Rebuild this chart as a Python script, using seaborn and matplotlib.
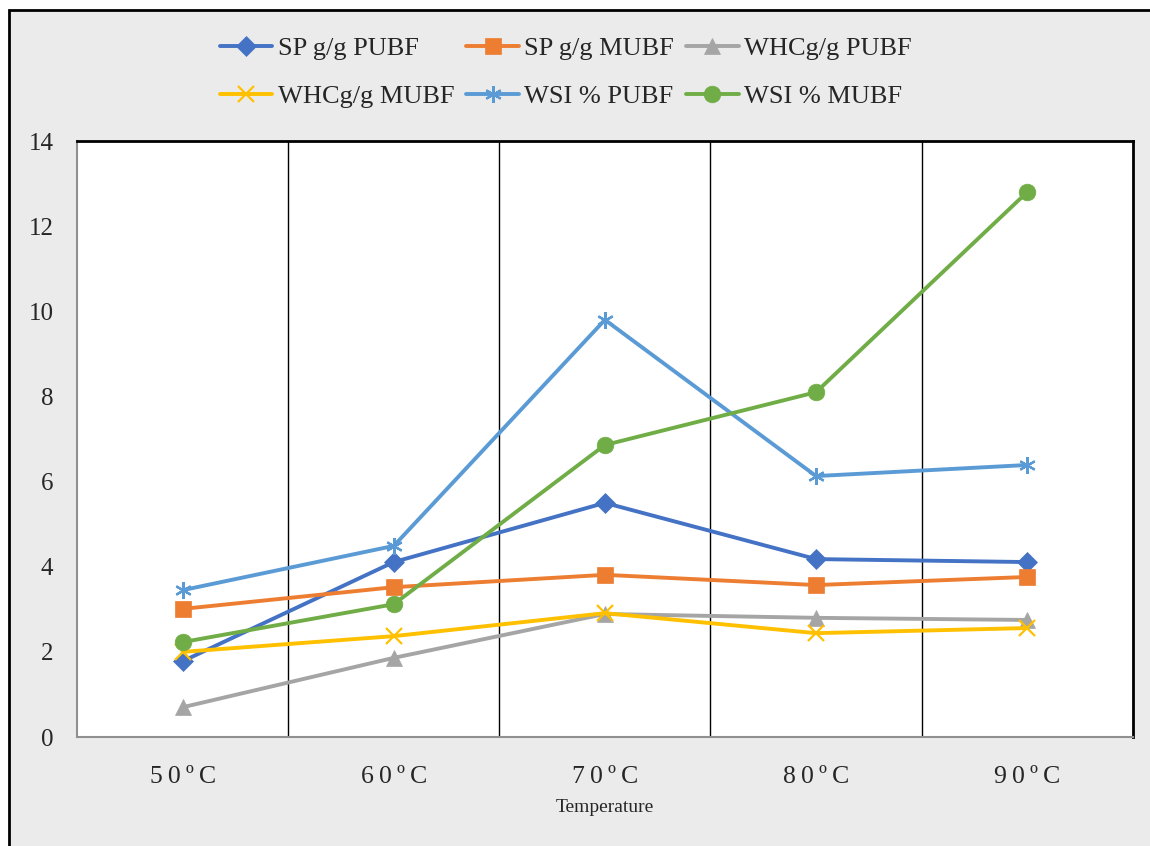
import matplotlib
matplotlib.use("Agg")
import matplotlib.pyplot as plt
import matplotlib.patches as mpatches
from matplotlib.ticker import FixedLocator
import seaborn as sns
import pandas as pd

# Temperature categories
temperatures = ["5\u20090\u2009º\u2009C", "6\u20090\u2009º\u2009C", "7\u20090\u2009º\u2009C",
                "8\u20090\u2009º\u2009C", "9\u20090\u2009º\u2009C"]

# Measured properties per temperature
sp_pubf = [1.78, 4.11, 5.50, 4.18, 4.11]
sp_mubf = [3.01, 3.52, 3.81, 3.57, 3.76]
whc_pubf = [0.70, 1.86, 2.89, 2.80, 2.75]
whc_mubf = [2.00, 2.37, 2.91, 2.44, 2.56]
wsi_pubf = [3.45, 4.49, 9.80, 6.13, 6.39]
wsi_mubf = [2.23, 3.12, 6.86, 8.10, 12.80]

series_names = ["SP g/g PUBF", "SP g/g MUBF", "WHCg/g PUBF",
                "WHCg/g MUBF", "WSI % PUBF", "WSI % MUBF"]
series_values = [sp_pubf, sp_mubf, whc_pubf, whc_mubf, wsi_pubf, wsi_mubf]

colors = ["#4472C4", "#ED7D31", "#A5A5A5", "#FFC000", "#5B9BD5", "#70AD47"]
markers = ["D", "s", "^", "x", (6, 2, 0), "o"]
msizes = [10, 11, 11, 11, 12, 12]

rows = []
for name, vals in zip(series_names, series_values):
    for i, v in enumerate(vals):
        rows.append({"series": name, "pos": i, "value": v})
df = pd.DataFrame(rows)

sns.set_theme(style="white")
plt.rcParams["font.family"] = ["Liberation Serif", "DejaVu Serif"]

fig = plt.figure(figsize=(11.5, 8.46), dpi=100, facecolor="white")
# framed grey chart area
fig.patches.append(mpatches.Rectangle((0.008, -0.1), 1.2, 1.088,
                                      transform=fig.transFigure, facecolor="#EBEBEB",
                                      edgecolor="black", linewidth=2, zorder=-10))
ax = fig.add_axes([0.067, 0.1288, 0.918, 0.7045])
ax.set_facecolor("white")

for name, col, mk, ms in zip(series_names, colors, markers, msizes):
    sub = df[df["series"] == name]
    mew = 1.6 if mk in ("x", (6, 2, 0)) else 0.5
    sns.lineplot(data=sub, x="pos", y="value", ax=ax, color=col, linewidth=2.8,
                 marker=mk, markersize=ms, markeredgecolor=col,
                 markeredgewidth=mew, markerfacecolor=col,
                 label=name, legend=False, zorder=3)

ax.set_xlim(-0.5, 4.5)
ax.set_ylim(0, 14)
ax.set_xticks(range(5))
ax.set_xticklabels(temperatures, fontsize=18.5)
ax.set_yticks(range(0, 15, 2))
ax.set_yticklabels([str(v) for v in range(0, 15, 2)], fontsize=18)
ax.xaxis.set_minor_locator(FixedLocator([0.5, 1.5, 2.5, 3.5]))
ax.grid(which="minor", axis="x", color="black", linewidth=1)
ax.grid(which="major", visible=False)
ax.tick_params(axis="both", which="both", length=0)
ax.tick_params(axis="x", pad=21)
ax.tick_params(axis="y", pad=17)
ax.set_xlabel("Temperature", fontsize=14, labelpad=8)
ax.set_ylabel("")

for side in ("top", "right"):
    ax.spines[side].set_color("black")
    ax.spines[side].set_linewidth(2)
for side in ("left", "bottom"):
    ax.spines[side].set_color("#909090")
    ax.spines[side].set_linewidth(1.5)

# legend filled row by row (matplotlib fills columns first)
handles, labels = ax.get_legend_handles_labels()
order = [0, 3, 1, 4, 2, 5]
fig.legend([handles[i] for i in order], [labels[i] for i in order],
           loc="upper center", bbox_to_anchor=(0.492, 0.985),
           ncol=3, frameon=False, fontsize=19, handlelength=2.0,
           handletextpad=0.2, columnspacing=0.45, labelspacing=0.95)

fig.savefig("out.png", dpi=100, facecolor=fig.get_facecolor())
